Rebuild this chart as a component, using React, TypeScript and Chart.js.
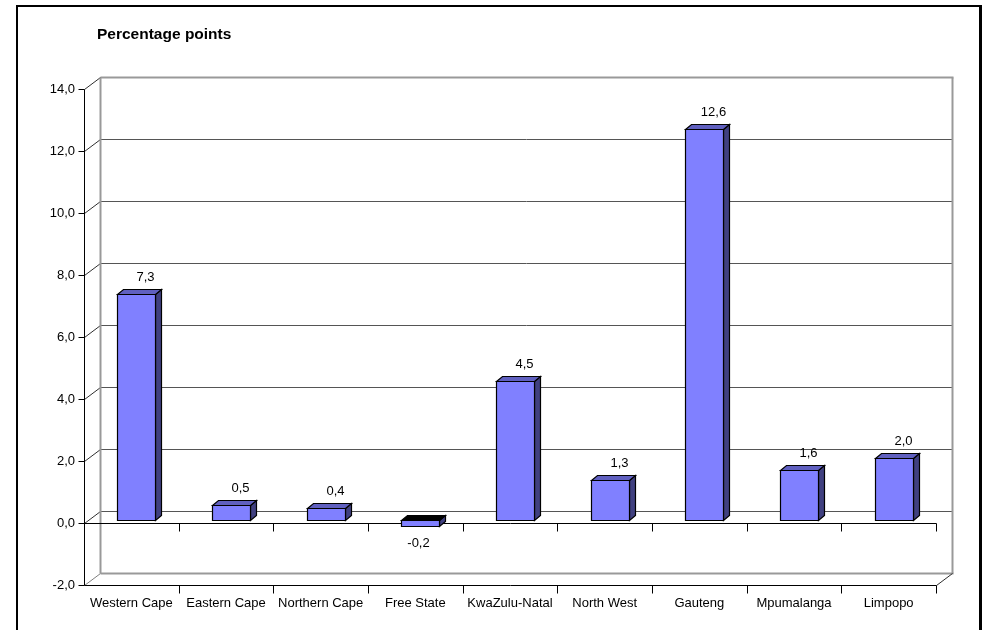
import React, { useEffect, useRef } from "react";
import { Chart, registerables } from "chart.js";

Chart.register(...registerables);

const categories = [
  "Western Cape",
  "Eastern Cape",
  "Northern Cape",
  "Free State",
  "KwaZulu-Natal",
  "North West",
  "Gauteng",
  "Mpumalanga",
  "Limpopo",
];
const values = [7.3, 0.5, 0.4, -0.2, 4.5, 1.3, 12.6, 1.6, 2.0];
const yMin = -2;
const yMax = 14;
const yStep = 2;
const titleText = "Percentage points";

const FONT = "'Liberation Sans', Arial, sans-serif";
const fmt = (v: number) => Number(v).toFixed(1).replace(".", ",");

// 3D geometry (pixels)
const WALL_DX = 16;
const WALL_DY = -12;
const BAR_SHIFT_X = 5;
const BAR_SHIFT_Y = -3;
const BAR_DX = 6;
const BAR_DY = -5;

const line = (
  ctx: CanvasRenderingContext2D,
  x1: number,
  y1: number,
  x2: number,
  y2: number,
  color: string,
  w = 1
) => {
  ctx.strokeStyle = color;
  ctx.lineWidth = w;
  ctx.beginPath();
  ctx.moveTo(x1, y1);
  ctx.lineTo(x2, y2);
  ctx.stroke();
};

const threeDPlugin = {
  id: "threeD",
  beforeDraw(chart: any) {
    const ctx: CanvasRenderingContext2D = chart.ctx;
    ctx.save();
    ctx.fillStyle = "#ffffff";
    ctx.fillRect(0, 0, chart.width, chart.height);
    // outer frame
    ctx.fillStyle = "#000000";
    ctx.fillRect(16, 5, 966, 2);
    ctx.fillRect(16, 5, 2, 640);
    ctx.fillRect(979, 5, 3, 640);
    // title
    ctx.font = `bold 15.5px ${FONT}`;
    ctx.textAlign = "left";
    ctx.textBaseline = "alphabetic";
    ctx.fillText(titleText, 97, 39);
    ctx.restore();
  },
  beforeDatasetsDraw(chart: any) {
    const ctx: CanvasRenderingContext2D = chart.ctx;
    const { left, right, top, bottom } = chart.chartArea;
    const yScale = chart.scales.y;
    const xScale = chart.scales.x;
    ctx.save();
    const L = Math.round(left) + 0.5;
    const R = Math.round(right) + 0.5;
    const T = Math.round(top) + 0.5;
    const B = Math.round(bottom) + 0.5;

    // back wall gridlines + left side diagonals + y tick marks
    yScale.ticks.forEach((t: any) => {
      const py = Math.round(yScale.getPixelForValue(t.value)) + 0.5;
      const edge = t.value === yMin || t.value === yMax;
      if (edge) {
        line(ctx, L + WALL_DX, py + WALL_DY, R + WALL_DX + 1, py + WALL_DY, "#999999", 2);
      } else {
        line(ctx, L + WALL_DX, py + WALL_DY, R + WALL_DX, py + WALL_DY, "#555555", 1);
      }
      line(ctx, L, py, L + WALL_DX, py + WALL_DY, t.value === yMin ? "#808080" : "#303030", 1);
      line(ctx, L - 6, py, L, py, "#000000", 1);
    });
    // back wall vertical edges
    line(ctx, L + WALL_DX, T + WALL_DY, L + WALL_DX, B + WALL_DY, "#999999", 2);
    line(ctx, R + WALL_DX, T + WALL_DY, R + WALL_DX, B + WALL_DY, "#999999", 2);
    // floor right diagonal
    line(ctx, R, B, R + WALL_DX, B + WALL_DY, "#303030", 1);
    // front y axis
    line(ctx, L, T, L, B, "#000000", 1);

    // front category lines at 0 and at the floor, with tick marks
    const n = categories.length;
    [0, yMin].forEach((v) => {
      const py = Math.round(yScale.getPixelForValue(v)) + 0.5;
      line(ctx, L, py, R, py, "#000000", 1);
      for (let i = 1; i <= n; i++) {
        const px = Math.round(xScale.getPixelForValue(i - 0.5)) + 0.5;
        line(ctx, px, py, px, py + 8, "#000000", 1);
      }
    });
    ctx.restore();
  },
  afterDatasetsDraw(chart: any) {
    const ctx: CanvasRenderingContext2D = chart.ctx;
    const meta = chart.getDatasetMeta(0);
    ctx.save();
    ctx.lineWidth = 1.2;
    ctx.strokeStyle = "#000000";
    ctx.lineJoin = "miter";
    meta.data.forEach((el: any, i: number) => {
      const p = el.getProps(["x", "y", "base", "width"], true);
      const v = values[i];
      const x0 = Math.round(p.x - p.width / 2 + BAR_SHIFT_X) + 0.5;
      const x1 = Math.round(p.x + p.width / 2 + BAR_SHIFT_X) + 0.5;
      const yT = Math.round(Math.min(p.y, p.base) + BAR_SHIFT_Y) + 0.5;
      const yB = Math.round(Math.max(p.y, p.base) + BAR_SHIFT_Y) + 0.5;

      // side face
      ctx.fillStyle = "#404080";
      ctx.beginPath();
      ctx.moveTo(x1, yT);
      ctx.lineTo(x1 + BAR_DX, yT + BAR_DY);
      ctx.lineTo(x1 + BAR_DX, yB + BAR_DY);
      ctx.lineTo(x1, yB);
      ctx.closePath();
      ctx.fill();
      ctx.stroke();

      // top face
      ctx.fillStyle = v < 0 ? "#000000" : "#6060C0";
      ctx.beginPath();
      ctx.moveTo(x0, yT);
      ctx.lineTo(x0 + BAR_DX, yT + BAR_DY);
      ctx.lineTo(x1 + BAR_DX, yT + BAR_DY);
      ctx.lineTo(x1, yT);
      ctx.closePath();
      ctx.fill();
      ctx.stroke();

      // front face
      ctx.fillStyle = "#8080FF";
      ctx.beginPath();
      ctx.rect(x0, yT, x1 - x0, yB - yT);
      ctx.fill();
      ctx.stroke();

      // value label
      ctx.fillStyle = "#000000";
      ctx.font = `13px ${FONT}`;
      ctx.textAlign = "center";
      ctx.textBaseline = "middle";
      const cx = (x0 + x1) / 2;
      if (v >= 0) {
        ctx.fillText(fmt(v), cx + 9, yT + BAR_DY - 12);
      } else {
        ctx.fillText(fmt(v), cx - 2, yB + 17);
      }
    });
    ctx.restore();
  },
};

export default function App() {
  const canvasRef = useRef<HTMLCanvasElement | null>(null);

  useEffect(() => {
    if (!canvasRef.current) return;
    const chart = new Chart(canvasRef.current, {
      type: "bar",
      data: {
        labels: categories,
        datasets: [
          {
            data: values,
            backgroundColor: "rgba(0,0,0,0)",
            borderWidth: 0,
            barPercentage: 0.4,
            categoryPercentage: 1.0,
          },
        ],
      },
      options: {
        animation: false,
        responsive: false,
        maintainAspectRatio: false,
        devicePixelRatio: 1,
        layout: { padding: { left: 0, right: 49, top: 89, bottom: 0 } },
        plugins: {
          legend: { display: false },
          title: { display: false },
          tooltip: { enabled: false },
        },
        scales: {
          x: {
            grid: { display: false, drawTicks: false },
            border: { display: false },
            ticks: {
              color: "#000000",
              font: { family: FONT, size: 13 },
              padding: 11,
              maxRotation: 0,
              autoSkip: false,
            },
            afterFit: (s: any) => {
              s.height = 45;
            },
          },
          y: {
            min: yMin,
            max: yMax,
            grid: { display: false, drawTicks: false },
            border: { display: false },
            ticks: {
              stepSize: yStep,
              color: "#000000",
              font: { family: FONT, size: 13 },
              padding: 9,
              callback: (v: any) => fmt(Number(v)),
            },
            afterFit: (s: any) => {
              s.width = 84;
            },
          },
        },
      },
      plugins: [threeDPlugin],
    });
    return () => chart.destroy();
  }, []);

  return (
    <div style={{ position: "fixed", left: 0, top: 0, width: 985, height: 630, background: "#fff" }}>
      <canvas ref={canvasRef} width={985} height={630} style={{ display: "block" }} />
    </div>
  );
}
